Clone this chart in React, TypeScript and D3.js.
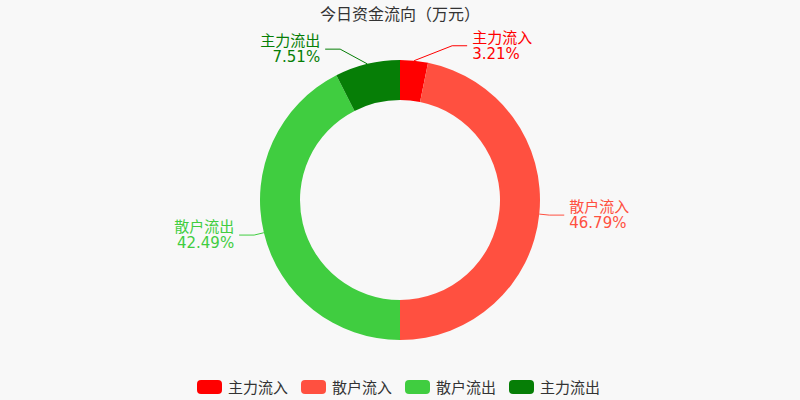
import React from 'react';
import * as d3 from 'd3';

const categories = ['主力流入', '散户流入', '散户流出', '主力流出'];
const shares = [3.21, 46.79, 42.49, 7.51];
const colors = ['#ff0000', '#ff5040', '#40cd40', '#067e06'];
const title = '今日资金流向（万元）';

const W = 800;
const H = 400;
const CX = 400;
const CY = 200;
const INNER = 100;
const OUTER = 140;
const LINE1 = 10; // first leader segment
const LINE2 = 15; // horizontal leader segment
const FONT = '"DejaVu Sans", "Noto Sans CJK SC", sans-serif';

interface Slice {
  name: string;
  value: number;
  color: string;
}

const data: Slice[] = categories.map((name, i) => ({ name, value: shares[i], color: colors[i] }));

const App: React.FC = () => {
  const pie = d3.pie<Slice>().value(d => d.value).sort(null);
  const arcs = pie(data);
  const arc = d3.arc<d3.PieArcDatum<Slice>>().innerRadius(INNER).outerRadius(OUTER);

  // label placement, roughly the way echarts pushes labels near the top outward
  const rA = OUTER + LINE1;
  const rB = rA + 14.5;
  const labels = arcs.map(a => {
    const mid = (a.startAngle + a.endAngle) / 2;
    const sx = CX + OUTER * Math.sin(mid);
    const sy = CY - OUTER * Math.cos(mid);
    let ex = CX + rA * Math.sin(mid);
    let ey = CY - rA * Math.cos(mid);
    const dir = Math.sin(mid) >= 0 ? 1 : -1;
    if (Math.abs(Math.cos(mid)) > 0.9) {
      ey += Math.cos(mid) > 0 ? -5 : 5;
      const dy = ey - CY;
      ex = CX + dir * rA * Math.sqrt(1 - (dy * dy) / (rB * rB));
    }
    const tx = ex + dir * LINE2;
    return { a, sx, sy, ex, ey, tx, dir };
  });

  const legend = d3.scalePoint<string>().domain(categories).range([197, 509]);

  return (
    <svg
      width={W}
      height={H}
      style={{ position: 'fixed', left: 0, top: 0, background: '#f8f8f8' }}
      fontFamily={FONT}
    >
      <rect width={W} height={H} fill="#f8f8f8" />
      <text x={CX} y={14} textAnchor="middle" dominantBaseline="central" fontSize={16} fill="#333">
        {title}
      </text>

      <g transform={`translate(${CX},${CY})`}>
        {arcs.map(a => (
          <path key={a.data.name} d={arc(a) || ''} fill={a.data.color} />
        ))}
      </g>

      {labels.map(l => (
        <g key={l.a.data.name}>
          <polyline
            points={`${l.sx},${l.sy} ${l.ex},${l.ey} ${l.tx},${l.ey}`}
            fill="none"
            stroke={l.a.data.color}
            strokeWidth={1}
          />
          <text
            x={l.tx + l.dir * 5}
            y={l.ey}
            textAnchor={l.dir > 0 ? 'start' : 'end'}
            fontSize={15}
            fill={l.a.data.color}
          >
            <tspan x={l.tx + l.dir * 5} dy={-8} dominantBaseline="central">{l.a.data.name}</tspan>
            <tspan x={l.tx + l.dir * 5} dy={16} dominantBaseline="central">
              {l.a.data.value.toFixed(2)}%
            </tspan>
          </text>
        </g>
      ))}

      {categories.map((c, i) => (
        <g key={c} transform={`translate(${legend(c)},380)`}>
          <rect width={25} height={14} rx={4} ry={4} fill={colors[i]} />
          <text x={31} y={7.5} dominantBaseline="central" fontSize={15} fill="#333">
            {c}
          </text>
        </g>
      ))}
    </svg>
  );
};

export default App;
